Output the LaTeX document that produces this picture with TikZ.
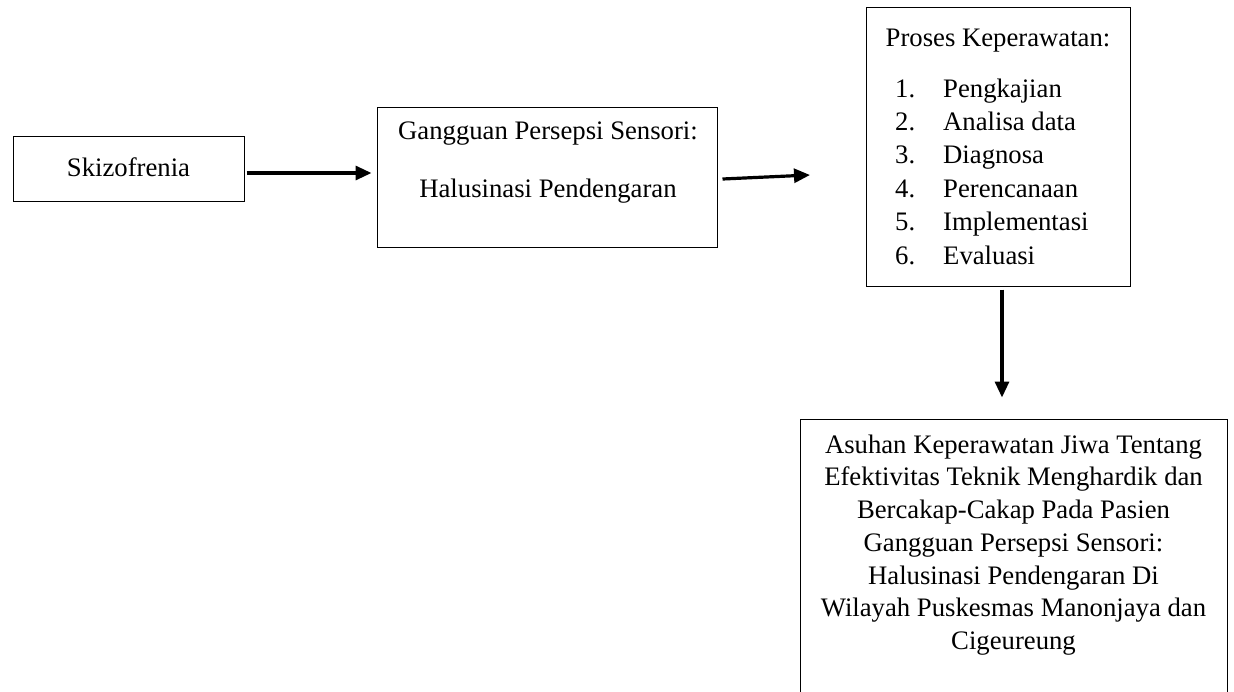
\documentclass[tikz,border=0pt]{standalone}
\usepackage{fontspec}
\setmainfont{Liberation Serif}
\usetikzlibrary{arrows.meta}
\begin{document}
\begin{tikzpicture}[x=1pt,y=-1pt,
  box/.style={draw=black,line width=1pt,inner sep=0pt},
  txt/.style={inner sep=0pt,font=\fontsize{26.7}{32.7}\selectfont},
  arr/.style={line width=3.2pt,-{Triangle[length=16pt,width=14pt]}}]
\clip (0,0) rectangle (1234,691);
\useasboundingbox (0,0) rectangle (1234,691);
\fill[white] (0,0) rectangle (1234,691);
% boxes
\node[box,minimum width=231pt,minimum height=65pt] (b1) at (128.5,168.5) {};
\node[txt] (t1) at (128.5,167) {Skizofrenia};
\node[box,minimum width=340pt,minimum height=140pt] (b2) at (547,177) {};
\node[txt] (t2a) at (548,134) {Gangguan Persepsi Sensori:};
\node[txt] (t2b) at (548,191) {Halusinasi Pendengaran};
\node[box,minimum width=264pt,minimum height=279pt] (b3) at (998,146.5) {};
\node[txt,anchor=base] (t3) at (998,46) {Proses Keperawatan:};
\foreach \n/\s [count=\k from 0] in {1/Pengkajian,2/Analisa data,3/Diagnosa,4/Perencanaan,5/Implementasi,6/Evaluasi}{
  \node[txt,anchor=base west] (n\n) at (895,97+33.4*\k) {\n.};
  \node[txt,anchor=base west] (i\n) at (943,97+33.4*\k) {\s};
}
\node[box,minimum width=427pt,minimum height=300pt] (b4) at (1013.5,569) {};
\node[txt,align=center] (t4) at (1013.5,545) {Asuhan Keperawatan Jiwa Tentang\\Efektivitas Teknik Menghardik dan\\Bercakap-Cakap Pada Pasien\\Gangguan Persepsi Sensori:\\Halusinasi Pendengaran Di\\Wilayah Puskesmas Manonjaya dan\\Cigeureung};
% connectors
\coordinate (a2end) at (810,175);
\draw[arr] ([shift={(2pt,-4.5pt)}]b1.east) -- ([shift={(-5pt,4pt)}]b2.west);
\draw[arr] ([shift={(5pt,-2pt)}]b2.east) -- (a2end);
\draw[arr] ([shift={(4pt,-3pt)}]b3.south) -- ([shift={(-11.5pt,21pt)}]b4.north);
\end{tikzpicture}
\end{document}
